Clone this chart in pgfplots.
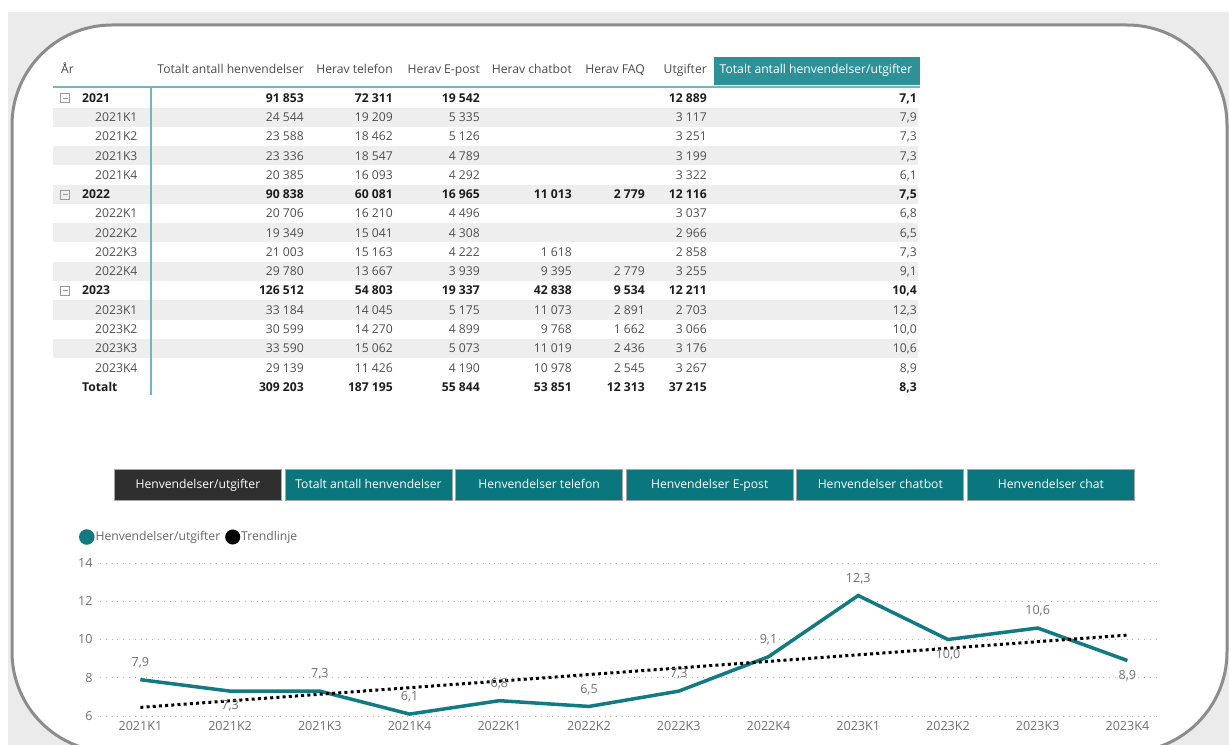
\documentclass[border=0pt]{standalone}
\usepackage{pgfplots}
\pgfplotsset{compat=1.18}
\usepackage{pgfplotstable}
\usepackage{fontspec}
\setmainfont{Open Sans}
\definecolor{teal1}{HTML}{117A82}
\definecolor{tealhdr}{HTML}{2E9197}
\definecolor{tealbtn}{HTML}{0A767E}
\definecolor{tealline}{HTML}{6DB8BC}
\definecolor{darkbtn}{HTML}{2F2F2F}
\definecolor{rowgray}{HTML}{EEEEEE}
\definecolor{bggray}{HTML}{EBEBEB}
\definecolor{txt}{HTML}{1E1E1E}
\definecolor{txtl}{HTML}{4F4F4F}
\definecolor{hdr}{HTML}{4A4A4A}
\definecolor{lab}{HTML}{707070}

\pgfplotstableread{
x y lab d
0 7.9 7,9 17
1 7.3 7,3 -15
2 7.3 7,3 17
3 6.1 6,1 17
4 6.8 6,8 17
5 6.5 6,5 17
6 7.3 7,3 17
7 9.1 9,1 17
8 12.3 12,3 17
9 10.0 10,0 -15
10 10.6 10,6 17
11 8.9 8,9 -15
}\ratio

\newcommand{\tf}{\fontsize{12.2}{13}\selectfont}
\newcommand{\rf}{}
% numbers of a row: y, then 7 columns
\newcommand{\tnums}[8]{%
  \node[anchor=base east,inner sep=0pt] at (304,#1+4.3) {\tf\rf #2};
  \node[anchor=base east,inner sep=0pt] at (393,#1+4.3) {\tf\rf #3};
  \node[anchor=base east,inner sep=0pt] at (480,#1+4.3) {\tf\rf #4};
  \node[anchor=base east,inner sep=0pt] at (572,#1+4.3) {\tf\rf #5};
  \node[anchor=base east,inner sep=0pt] at (645,#1+4.3) {\tf\rf #6};
  \node[anchor=base east,inner sep=0pt] at (707,#1+4.3) {\tf\rf #7};
  \node[anchor=base east,inner sep=0pt] at (917,#1+4.3) {\tf\rf #8};
}
\newcommand{\yearlab}[2]{%
  \draw[gray!80,line width=0.6pt] (60.5,#1-4.5) rectangle (69.5,#1+4.5);
  \draw[gray!80,line width=0.6pt] (62.5,#1) -- (67.5,#1);
  \node[anchor=base west,inner sep=0pt,text=txt] at (82,#1+4.3) {\tf\bfseries #2};
}
\newcommand{\sublab}[2]{%
  \node[anchor=base west,inner sep=0pt,text=txtl] at (95,#1+4.3) {\tf #2};
}
\newcommand{\hdrlab}[2]{%
  \node[anchor=base east,inner sep=0pt,text=hdr] at (#1,73.3) {\tf #2};
}
\newcommand{\legcirc}[1]{\fill[#1,solid] (2bp,0bp) circle (6bp);}

\begin{document}
\begin{tikzpicture}
\useasboundingbox (0,0) rectangle (1229bp,745bp);
\clip (0,0) rectangle (1229bp,745bp);
\begin{scope}[x=1bp,y=-1bp,shift={(0bp,745bp)}]
  % background and panel
  \fill[white] (0,0) rectangle (1229,745);
  \fill[bggray] (8,12) rectangle (1229,745);
  \fill[white,draw=black!45,line width=3bp,rounded corners=100bp] (12,25) rectangle (1227,752);
  % row shading
  \foreach \i in {1,3,5,7,9,11,13} {
    \fill[rowgray] (53,{98+19.27*\i-9.6}) rectangle (918,{98+19.27*\i+9.6});
  }
  % header
  \fill[tealhdr] (714,57) rectangle (920,85);
  \node[anchor=base west,inner sep=0pt,text=hdr] at (61,73.3) {\tf År};
  \hdrlab{304}{Totalt antall henvendelser}
  \hdrlab{393}{Herav telefon}
  \hdrlab{480}{Herav E-post}
  \hdrlab{572}{Herav chatbot}
  \hdrlab{645}{Herav FAQ}
  \hdrlab{707}{Utgifter}
  \node[anchor=base,inner sep=0pt,text=white] at (816,73.3) {\tf Totalt antall henvendelser/utgifter};
  \draw[tealline,line width=1.5bp] (53,87) -- (920,87);
  \draw[tealline,line width=1.5bp] (151,87) -- (151,395);
  % rows
  \renewcommand{\rf}{\color{txt}\bfseries}
  \yearlab{98}{2021}
  \tnums{98}{91 853}{72 311}{19 542}{}{}{12 889}{7,1}
  \renewcommand{\rf}{\color{txtl}}
  \sublab{117.27}{2021K1}\tnums{117.27}{24 544}{19 209}{5 335}{}{}{3 117}{7,9}
  \sublab{136.54}{2021K2}\tnums{136.54}{23 588}{18 462}{5 126}{}{}{3 251}{7,3}
  \sublab{155.81}{2021K3}\tnums{155.81}{23 336}{18 547}{4 789}{}{}{3 199}{7,3}
  \sublab{175.08}{2021K4}\tnums{175.08}{20 385}{16 093}{4 292}{}{}{3 322}{6,1}
  \renewcommand{\rf}{\color{txt}\bfseries}
  \yearlab{194.35}{2022}
  \tnums{194.35}{90 838}{60 081}{16 965}{11 013}{2 779}{12 116}{7,5}
  \renewcommand{\rf}{\color{txtl}}
  \sublab{213.62}{2022K1}\tnums{213.62}{20 706}{16 210}{4 496}{}{}{3 037}{6,8}
  \sublab{232.89}{2022K2}\tnums{232.89}{19 349}{15 041}{4 308}{}{}{2 966}{6,5}
  \sublab{252.16}{2022K3}\tnums{252.16}{21 003}{15 163}{4 222}{1 618}{}{2 858}{7,3}
  \sublab{271.43}{2022K4}\tnums{271.43}{29 780}{13 667}{3 939}{9 395}{2 779}{3 255}{9,1}
  \renewcommand{\rf}{\color{txt}\bfseries}
  \yearlab{290.7}{2023}
  \tnums{290.7}{126 512}{54 803}{19 337}{42 838}{9 534}{12 211}{10,4}
  \renewcommand{\rf}{\color{txtl}}
  \sublab{309.97}{2023K1}\tnums{309.97}{33 184}{14 045}{5 175}{11 073}{2 891}{2 703}{12,3}
  \sublab{329.24}{2023K2}\tnums{329.24}{30 599}{14 270}{4 899}{9 768}{1 662}{3 066}{10,0}
  \sublab{348.51}{2023K3}\tnums{348.51}{33 590}{15 062}{5 073}{11 019}{2 436}{3 176}{10,6}
  \sublab{367.78}{2023K4}\tnums{367.78}{29 139}{11 426}{4 190}{10 978}{2 545}{3 267}{8,9}
  \renewcommand{\rf}{\color{txt}\bfseries}
  \node[anchor=base west,inner sep=0pt,text=txt] at (82,391.35) {\tf\bfseries Totalt};
  \tnums{387.05}{309 203}{187 195}{55 844}{53 851}{12 313}{37 215}{8,3}
  % buttons
  \foreach \k/\t in {0/Henvendelser\slash utgifter,1/Totalt antall henvendelser,2/Henvendelser telefon,3/Henvendelser E-post,4/Henvendelser chatbot,5/Henvendelser chat} {
    \ifnum\k=0 \def\bc{darkbtn}\else\def\bc{tealbtn}\fi
    \node[fill=\bc,draw=black!35,line width=0.8bp,minimum width=167bp,minimum height=31bp,inner sep=0pt,text=white,anchor=west,
      text height=9bp,text depth=2.5bp]
      at ({114+170.6*\k},485) {\tf\t};
  }
\end{scope}

\begin{axis}[
  at={(100bp,29bp)}, anchor=south west,
  scale only axis, width=1057bp, height=153bp,
  xmin=-0.45, xmax=11.33, ymin=6, ymax=14,
  axis line style={draw=none},
  major tick length=0pt,
  xtick={0,...,11},
  xticklabels={2021K1,2021K2,2021K3,2021K4,2022K1,2022K2,2022K3,2022K4,2023K1,2023K2,2023K3,2023K4},
  ytick={6,8,10,12,14},
  ymajorgrids,
  grid style={black!30,line width=0.8bp,dash pattern=on 0.8bp off 5bp},
  /pgf/number format/assume math mode=true,
  tick label style={font=\fontsize{12.6}{13}\selectfont,text=lab},
  xticklabel style={yshift=-2bp},
  yticklabel style={xshift=-4bp},
  clip=false,
  legend columns=2,
  legend style={at={(axis description cs:-0.02,1.17)},anchor=west,draw=none,fill=none,
    font=\fontsize{12.2}{13}\selectfont,text=black!60,
    /tikz/every even column/.append style={column sep=4bp},
    inner sep=0pt, nodes={inner sep=1bp}},
  legend image code/.code={\legcirc{#1}},
]
\addplot[color=teal1,line width=3.5bp,
  nodes near coords, point meta=explicit symbolic,
  visualization depends on={\thisrow{d} \as \dd},
  every node near coord/.append style={anchor=center,yshift=\dd bp,font=\fontsize{12.6}{13}\selectfont,text=lab,inner sep=0pt}]
  table[x=x,y=y,meta=lab] {\ratio};
\addlegendentry{Henvendelser/utgifter}
\addplot[color=black,line width=3bp,dash pattern=on 3bp off 3.2bp] coordinates {(0,6.45) (11,10.23)};
\addlegendentry{Trendlinje}
\end{axis}
\end{tikzpicture}
\end{document}
